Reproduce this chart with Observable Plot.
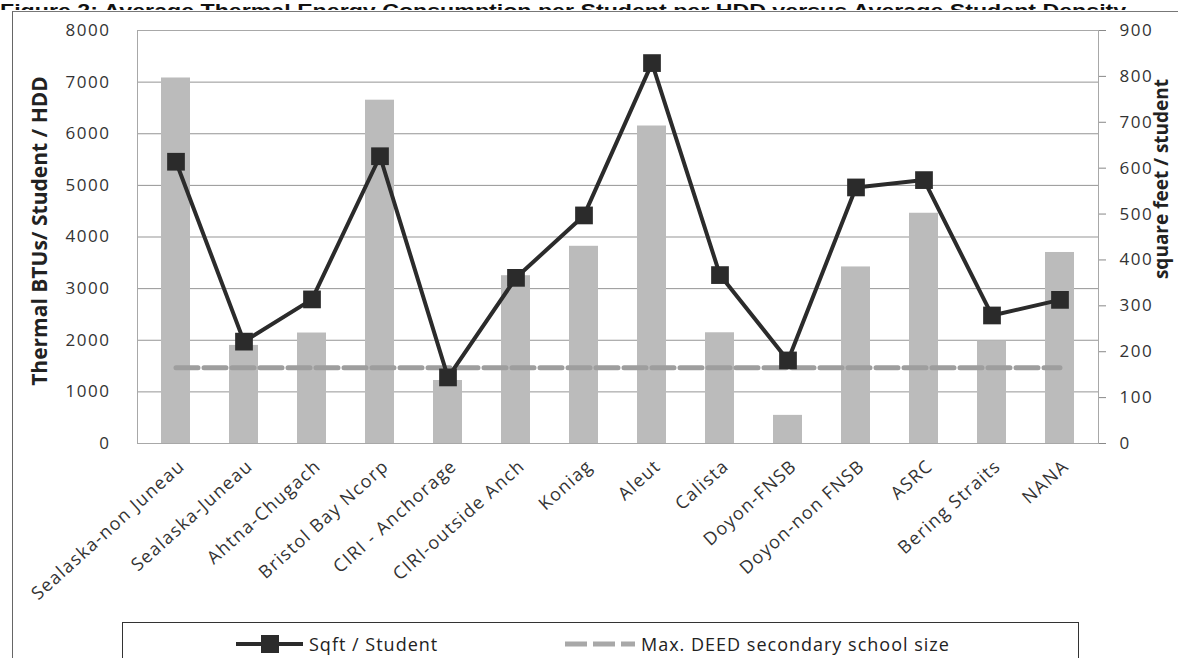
<!DOCTYPE html>
<html>
<head>
<meta charset="utf-8">
<script src="https://cdn.jsdelivr.net/npm/d3@7"></script>
<script src="https://cdn.jsdelivr.net/npm/@observablehq/plot@0.6"></script>
<style>
  body { margin: 0; background: #fff; width: 1178px; height: 658px; overflow: hidden; position: relative; font-family: "Open Sans", sans-serif; }
  #title { height: 10px; overflow: hidden; white-space: nowrap; }
  #title span { display: inline-block; margin-top: -10px; font: bold 19px "Liberation Sans", Arial, sans-serif; line-height: 19px; color: #111; transform: scaleX(1.22); transform-origin: 0 0; }
  #frame { position: absolute; left: 12px; top: 11px; width: 1300px; height: 800px; border-left: 1px solid #666; border-top: 1px solid #777; pointer-events: none; }
  #chart svg { display: block; }
  .ytick text { letter-spacing: 1.5px; }
  .xtick text { letter-spacing: 1.3px; }
  #legend { position: relative; height: 38px; overflow: hidden; }
  #legend .box { position: absolute; left: 122px; top: 2px; width: 955px; height: 80px; border: 1px solid #333; }
  #legend .item { position: absolute; top: 12px; height: 24px; display: flex; align-items: center; font-size: 18px; letter-spacing: 1px; color: #222; white-space: nowrap; }
  #legend svg { margin-right: 6px; }
</style>
</head>
<body>
<div id="title"><span>Figure 2: Average Thermal Energy Consumption per Student per HDD versus Average Student Density</span></div>
<div id="chart"></div>
<div id="legend">
  <div class="box"></div>
  <div class="item" style="left:236px">
    <svg width="67" height="22"><line x1="0" y1="11" x2="67" y2="11" stroke="#2b2b2b" stroke-width="4"/><rect x="25" y="2" width="18" height="18" fill="#2b2b2b"/></svg>
    <span>Sqft / Student</span>
  </div>
  <div class="item" style="left:565px">
    <svg width="70" height="22"><line x1="0" y1="11" x2="70" y2="11" stroke="#a8a8a8" stroke-width="5" stroke-dasharray="22,6"/></svg>
    <span>Max. DEED secondary school size</span>
  </div>
</div>
<div id="frame"></div>
<script>
const categories = ["Sealaska-non Juneau", "Sealaska-Juneau", "Ahtna-Chugach", "Bristol Bay Ncorp", "CIRI - Anchorage", "CIRI-outside Anch", "Koniag", "Aleut", "Calista", "Doyon-FNSB", "Doyon-non FNSB", "ASRC", "Bering Straits", "NANA"];
const thermalBtusPerStudentPerHdd = [7080, 1900, 2140, 6650, 1220, 3250, 3820, 6150, 2145, 545, 3420, 4460, 1985, 3700];
const sqftPerStudent = [614, 222, 314, 626, 144, 361, 497, 829, 367, 181, 558, 574, 279, 313];
const maxDeedSecondarySize = 165;
const leftTicks = [0, 1000, 2000, 3000, 4000, 5000, 6000, 7000, 8000];
const rightTicks = [0, 100, 200, 300, 400, 500, 600, 700, 800, 900];
const leftTitle = "Thermal BTUs/ Student / HDD";
const rightTitle = "square feet / student";

const leftMax = 8000, rightMax = 900;
const k = leftMax / rightMax;
const rows = categories.map((c, i) => ({category: c, btu: thermalBtusPerStudentPerHdd[i], sqft: sqftPerStudent[i], deed: maxDeedSecondarySize}));

const chart = Plot.plot({
  width: 1178, height: 610,
  marginTop: 20, marginBottom: 177, marginLeft: 137, marginRight: 80,
  style: {fontFamily: '"Open Sans", sans-serif', fontSize: "17px", color: "#333", background: "transparent", overflow: "visible"},
  x: {type: "band", domain: categories, paddingInner: 0.58, paddingOuter: 0.29, label: null},
  y: {domain: [0, leftMax], label: null},
  marks: [
    Plot.ruleY(leftTicks, {stroke: "#959595", strokeWidth: 1}),
    Plot.barY(rows, {x: "category", y: "btu", fill: "#bbbbbb"}),
    Plot.line(rows, {x: "category", y: d => d.deed * k, stroke: "#9e9e9e", strokeWidth: 5, strokeDasharray: "22,6"}),
    Plot.line(rows, {x: "category", y: d => d.sqft * k, stroke: "#2b2b2b", strokeWidth: 4}),
    Plot.dot(rows, {x: "category", y: d => d.sqft * k, symbol: "square", r: 10, fill: "#2b2b2b", stroke: "none"}),
    Plot.frame({stroke: "#a8a8a8"}),
    Plot.axisY(leftTicks, {anchor: "left", tickSize: 0, tickPadding: 27, fontSize: 17, tickFormat: d => String(d), label: null, className: "ytick"}),
    Plot.axisY(rightTicks.map(v => v * k), {anchor: "right", tickSize: 7, tickPadding: 14, tickFormat: v => String(Math.round(v / k)), fontSize: 17, label: null, stroke: "#888", className: "ytick"}),
    Plot.axisX({tickRotate: -42, tickSize: 0, tickPadding: 20, dx: 6, fontSize: 18, label: null, className: "xtick"}),
    Plot.text([leftTitle], {text: d => d, frameAnchor: "left", dx: -97, dy: -6, rotate: -90, textAnchor: "middle", fontSize: 21, fontWeight: "bold", fill: "#222"}),
    Plot.text([rightTitle], {text: d => d, frameAnchor: "right", dx: 63, dy: -58, rotate: -90, textAnchor: "middle", fontSize: 19, fontWeight: "bold", fill: "#222"})
  ]
});
document.getElementById("chart").appendChild(chart);
</script>
</body>
</html>
